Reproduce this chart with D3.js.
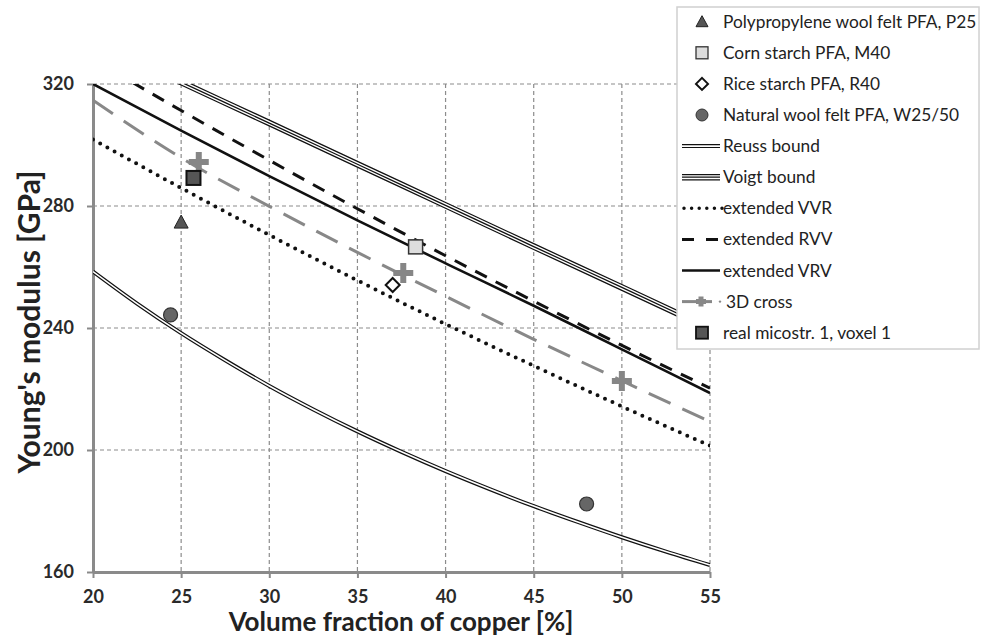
<!DOCTYPE html>
<html><head><meta charset="utf-8">
<script src="https://cdn.jsdelivr.net/npm/d3@7"></script>
<style>html,body{margin:0;padding:0;background:#fff;}svg{display:block;font-family:Lato,"Open Sans",sans-serif;}</style>
</head><body>
<svg id="chart" width="981" height="640"></svg>
<script>
// ---- data ----
const xTicks = [20,25,30,35,40,45,50,55];
const yTicks = [160,200,240,280,320];

const reussX = [20,22.5,25,27.5,30,32.5,35,37.5,40,42.5,45,47.5,50,52.5,55];
const reussY = [258.5,248.0,238.3,229.4,221.0,213.3,206.1,199.4,193.1,187.2,181.6,176.4,171.4,166.7,162.3];

const lineX = [20,25,30,35,40,45,50,55];
const voigtY = [334.1,320.6,307.2,293.7,280.2,266.7,253.3,239.8];
const vvrY   = [301.8,285.9,270.5,255.6,241.3,227.6,214.3,201.4];
const rvvY   = [328.1,311.3,295.0,279.1,263.7,248.8,234.3,220.3];
const vrvY   = [320.0,304.7,289.8,275.3,261.2,247.3,233.0,218.7];
const cross3dY = [314.7,295.8,279.9,264.8,250.4,236.3,222.7,209.3];

const crossPtsX = [26.0,37.6,50.0];
const crossPtsY = [294.4,258.0,222.6];

const p25 = [{x:25.0,y:274.4}];
const m40 = [{x:38.3,y:266.6}];
const r40 = [{x:37.0,y:254.1}];
const w2550 = [{x:24.4,y:244.3},{x:48.0,y:182.3}];
const realMicro = [{x:25.7,y:289.2}];

const legendLabels = ["Polypropylene wool felt PFA, P25","Corn starch PFA, M40","Rice starch PFA, R40",
  "Natural wool felt PFA, W25/50","Reuss bound","Voigt bound","extended VVR","extended RVV",
  "extended VRV","3D cross","real micostr. 1, voxel 1"];

// ---- drawing ----
const svg = d3.select("#chart");
const L=93, R=710, T=84, B=572;
const x = d3.scaleLinear().domain([20,55]).range([L,R]);
const y = d3.scaleLinear().domain([160,320]).range([B,T]);

svg.append("defs").append("clipPath").attr("id","clip")
  .append("rect").attr("x",L).attr("y",T).attr("width",R-L).attr("height",B-T);

// grid
const grid = svg.append("g");
grid.selectAll("line.h").data(yTicks.filter(d=>d>160)).join("line")
  .attr("x1",L).attr("x2",R).attr("y1",d=>y(d)).attr("y2",d=>y(d))
  .attr("stroke","#8c8c8c").attr("stroke-width",1.2).attr("stroke-dasharray","4,3");
grid.selectAll("line.v").data(xTicks.filter(d=>d>20)).join("line")
  .attr("y1",T).attr("y2",B).attr("x1",d=>x(d)).attr("x2",d=>x(d))
  .attr("stroke","#8c8c8c").attr("stroke-width",1.2).attr("stroke-dasharray","4,3");

// axes
const ax = svg.append("g").attr("transform",`translate(0,${B})`)
  .call(d3.axisBottom(x).tickValues(xTicks).tickSize(6).tickSizeOuter(0).tickPadding(11));
const ay = svg.append("g").attr("transform",`translate(${L},0)`)
  .call(d3.axisLeft(y).tickValues(yTicks).tickSize(6).tickSizeOuter(0).tickPadding(13));
[ax,ay].forEach(g=>{
  g.select(".domain").attr("stroke","#8a8a8a").attr("stroke-width",3);
  g.selectAll(".tick line").attr("stroke","#8a8a8a").attr("stroke-width",2);
  g.selectAll(".tick text").attr("fill","#2a2a2a").attr("font-size",18).attr("font-weight","bold")
   .attr("font-family","Lato, sans-serif");
});
ax.selectAll(".tick text").attr("dy","0.75em");

svg.append("text").attr("x",401).attr("y",631).attr("text-anchor","middle")
  .attr("font-size",26).attr("font-weight","bold").attr("fill","#222")
  .text("Volume fraction of copper [%]");
svg.append("text").attr("transform","translate(40,322) rotate(-90)").attr("text-anchor","middle")
  .attr("font-size",30).attr("font-weight","bold").attr("fill","#222")
  .text("Young's modulus [GPa]");

const plot = svg.append("g").attr("clip-path","url(#clip)");
const mk = (xs,ys)=>xs.map((d,i)=>({x:d,y:ys[i]}));
const line = d3.line().x(d=>x(d.x)).y(d=>y(d.y)).curve(d3.curveMonotoneX);

// Reuss double line
const reuss = mk(reussX,reussY);
plot.append("path").attr("d",line(reuss)).attr("fill","none").attr("stroke","#111").attr("stroke-width",4);
plot.append("path").attr("d",line(reuss)).attr("fill","none").attr("stroke","#fff").attr("stroke-width",1.6);
// Voigt triple line
const voigt = mk(lineX,voigtY);
plot.append("path").attr("d",line(voigt)).attr("fill","none").attr("stroke","#111").attr("stroke-width",6.5);
plot.append("path").attr("d",line(voigt)).attr("fill","none").attr("stroke","#fff").attr("stroke-width",4);
plot.append("path").attr("d",line(voigt)).attr("fill","none").attr("stroke","#111").attr("stroke-width",1.3);

plot.append("path").attr("d",line(mk(lineX,vvrY))).attr("fill","none").attr("stroke","#111")
  .attr("stroke-width",4).attr("stroke-linecap","round").attr("stroke-dasharray","0,8.2");
plot.append("path").attr("d",line(mk(lineX,rvvY))).attr("fill","none").attr("stroke","#111")
  .attr("stroke-width",3).attr("stroke-dasharray","13,10");
plot.append("path").attr("d",line(mk(lineX,vrvY))).attr("fill","none").attr("stroke","#111")
  .attr("stroke-width",2.6);
plot.append("path").attr("d",line(mk(lineX,cross3dY))).attr("fill","none").attr("stroke","#888")
  .attr("stroke-width",3).attr("stroke-dasharray","24,13");

// markers
function crossPath(cx,cy,s){ return `M${cx-s},${cy}H${cx+s}M${cx},${cy-s}V${cy+s}`; }
plot.selectAll("path.cr").data(mk(crossPtsX,crossPtsY)).join("path")
  .attr("d",d=>crossPath(x(d.x),y(d.y),10)).attr("stroke","#868686").attr("stroke-width",6).attr("fill","none");
plot.selectAll("path.tri").data(p25).join("path")
  .attr("d",d=>`M${x(d.x)},${y(d.y)-8}L${x(d.x)+7},${y(d.y)+5}L${x(d.x)-7},${y(d.y)+5}Z`)
  .attr("fill","#555").attr("stroke","#222").attr("stroke-width",1);
plot.selectAll("rect.m40").data(m40).join("rect")
  .attr("x",d=>x(d.x)-7).attr("y",d=>y(d.y)-7).attr("width",14).attr("height",14)
  .attr("fill","#ddd").attr("stroke","#333").attr("stroke-width",1.5);
plot.selectAll("path.dia").data(r40).join("path")
  .attr("d",d=>`M${x(d.x)},${y(d.y)-7}L${x(d.x)+7},${y(d.y)}L${x(d.x)},${y(d.y)+7}L${x(d.x)-7},${y(d.y)}Z`)
  .attr("fill","#fff").attr("stroke","#111").attr("stroke-width",2);
plot.selectAll("circle.w").data(w2550).join("circle")
  .attr("cx",d=>x(d.x)).attr("cy",d=>y(d.y)).attr("r",7)
  .attr("fill","#666").attr("stroke","#333").attr("stroke-width",1.2);
plot.selectAll("rect.rm").data(realMicro).join("rect")
  .attr("x",d=>x(d.x)-7).attr("y",d=>y(d.y)-7).attr("width",14).attr("height",14)
  .attr("fill","#555").attr("stroke","#111").attr("stroke-width",2);

// legend
const lg = svg.append("g");
lg.append("rect").attr("x",677).attr("y",7).attr("width",302).attr("height",342)
  .attr("fill","#fff").attr("stroke","#d0d0d0").attr("stroke-width",1.5);
const rowY = i=>21.7+i*31.1;
const tx = 723;
legendLabels.forEach((t,i)=>{
  lg.append("text").attr("x",i===9?726:tx).attr("y",rowY(i)).attr("dy","0.35em")
    .attr("font-size",17.3).attr("fill","#222").text(t);
});
const mx=702;
// markers in legend
lg.append("path").attr("d",`M${mx},${rowY(0)-6}L${mx+6},${rowY(0)+5}L${mx-6},${rowY(0)+5}Z`)
  .attr("fill","#555").attr("stroke","#222").attr("stroke-width",1);
lg.append("rect").attr("x",mx-6).attr("y",rowY(1)-6).attr("width",12).attr("height",12)
  .attr("fill","#ddd").attr("stroke","#333").attr("stroke-width",1.3);
lg.append("path").attr("d",`M${mx},${rowY(2)-6}L${mx+6},${rowY(2)}L${mx},${rowY(2)+6}L${mx-6},${rowY(2)}Z`)
  .attr("fill","#fff").attr("stroke","#111").attr("stroke-width",2);
lg.append("circle").attr("cx",mx).attr("cy",rowY(3)).attr("r",6)
  .attr("fill","#666").attr("stroke","#333").attr("stroke-width",1);
lg.append("rect").attr("x",mx-6).attr("y",rowY(10)-6).attr("width",12).attr("height",12)
  .attr("fill","#555").attr("stroke","#111").attr("stroke-width",1.8);
// line samples
const lx1=682, lx2=720;
const seg = (i)=>`M${lx1},${rowY(i)}H${lx2}`;
lg.append("path").attr("d",seg(4)).attr("stroke","#111").attr("stroke-width",4);
lg.append("path").attr("d",seg(4)).attr("stroke","#fff").attr("stroke-width",1.6);
lg.append("path").attr("d",seg(5)).attr("stroke","#111").attr("stroke-width",6.5);
lg.append("path").attr("d",seg(5)).attr("stroke","#fff").attr("stroke-width",4);
lg.append("path").attr("d",seg(5)).attr("stroke","#111").attr("stroke-width",1.3);
lg.append("path").attr("d",seg(6)).attr("stroke","#111").attr("stroke-width",3.5)
  .attr("stroke-linecap","round").attr("stroke-dasharray","0,7.6").attr("transform","translate(2,0)");
lg.append("path").attr("d",`M${lx1},${rowY(7)}H${lx1+36}`).attr("stroke","#111").attr("stroke-width",3).attr("stroke-dasharray","12,12");
lg.append("path").attr("d",seg(8)).attr("stroke","#111").attr("stroke-width",2.6);
lg.append("path").attr("d",`M${lx1},${rowY(9)}H${lx1+30}`).attr("stroke","#888").attr("stroke-width",3);
lg.append("path").attr("d",crossPath(mx-1,rowY(9),5)).attr("stroke","#888").attr("stroke-width",5);
lg.append("circle").attr("cx",720).attr("cy",rowY(9)).attr("r",1.2).attr("fill","#888");
</script>
</body></html>
